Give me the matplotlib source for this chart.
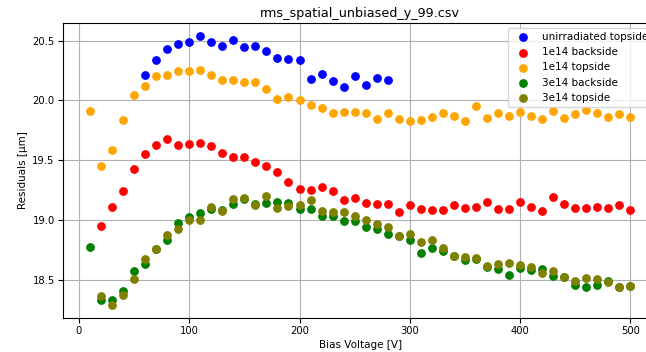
import matplotlib
matplotlib.use("Agg")
from matplotlib import pyplot as plt

# bias voltages
v_blue = list(range(60, 290, 10))
v_red = list(range(20, 510, 10))
v_orange = list(range(10, 510, 10))
v_green = list(range(10, 510, 10))
v_olive = list(range(20, 510, 10))

unirr_top = [20.215, 20.335, 20.43, 20.473, 20.485, 20.537, 20.485, 20.454, 20.504, 20.446,
             20.454, 20.415, 20.354, 20.343, 20.335, 20.18, 20.218, 20.165, 20.11, 20.204,
             20.13, 20.19, 20.17]

e14_back = [18.95, 19.11, 19.243, 19.423, 19.554, 19.623, 19.68, 19.623, 19.635, 19.643,
            19.615, 19.563, 19.527, 19.527, 19.482, 19.454, 19.404, 19.315, 19.263, 19.254,
            19.273, 19.243, 19.165, 19.182, 19.146, 19.135, 19.135, 19.065, 19.123, 19.093,
            19.082, 19.082, 19.123, 19.104, 19.11, 19.154, 19.093, 19.093, 19.154, 19.11,
            19.073, 19.193, 19.135, 19.104, 19.104, 19.11, 19.104, 19.123, 19.085]

e14_top = [19.915, 19.454, 19.585, 19.835, 20.043, 20.123, 20.2, 20.215, 20.243, 20.243,
           20.254, 20.215, 20.173, 20.173, 20.154, 20.154, 20.093, 20.013, 20.027, 20.004,
           19.963, 19.935, 19.893, 19.904, 19.904, 19.896, 19.843, 19.896, 19.846, 19.826,
           19.835, 19.862, 19.893, 19.873, 19.826, 19.954, 19.854, 19.896, 19.873, 19.90,
           19.873, 19.843, 19.915, 19.854, 19.89, 19.923, 19.893, 19.862, 19.89, 19.862]

e3_back = [18.773, 18.33, 18.335, 18.407, 18.573, 18.632, 18.76, 18.83, 18.973, 19.025,
           19.057, 19.093, 19.082, 19.135, 19.173, 19.132, 19.143, 19.154, 19.146, 19.093,
           19.093, 19.032, 19.032, 18.993, 18.993, 18.943, 18.921, 18.882, 18.863, 18.832,
           18.721, 18.763, 18.743, 18.70, 18.668, 18.673, 18.61, 18.593, 18.543, 18.598,
           18.579, 18.588, 18.532, 18.52, 18.46, 18.443, 18.46, 18.493, 18.443, 18.452]

e3_top = [18.363, 18.293, 18.373, 18.504, 18.673, 18.76, 18.873, 18.923, 19.002, 19.002,
          19.11, 19.079, 19.173, 19.182, 19.127, 19.204, 19.104, 19.115, 19.123, 19.163,
          19.073, 19.065, 19.065, 19.035, 19.004, 18.965, 18.943, 18.868, 18.885, 18.813,
          18.835, 18.765, 18.70, 18.69, 18.682, 18.615, 18.632, 18.64, 18.621, 18.604,
          18.554, 18.57, 18.526, 18.493, 18.515, 18.504, 18.482, 18.443, 18.452]

fig = plt.figure(figsize=(6.46, 3.52), dpi=100)
# axes runs past the right edge like in the original crop
ax = fig.add_axes([63 / 646, 1 - 318 / 352, (657.3 - 63) / 646, (318 - 22.7) / 352])

ax.scatter(v_blue, unirr_top, color='blue', s=28, label='unirradiated topside', zorder=3)
ax.scatter(v_red, e14_back, color='red', s=28, label='1e14 backside', zorder=3)
ax.scatter(v_orange, e14_top, color='orange', s=28, label='1e14 topside', zorder=3)
ax.scatter(v_green, e3_back, color='green', s=28, label='3e14 backside', zorder=3)
ax.scatter(v_olive, e3_top, color='olive', s=28, label='3e14 topside', zorder=3)

ax.set_title("rms_spatial_unbiased_y_99.csv", fontsize=9.2, pad=4)
ax.set_xlabel("Bias Voltage [V]", fontsize=7.5, labelpad=2.5)
ax.set_ylabel("Residuals [µm]", fontsize=7.5, labelpad=3)
ax.tick_params(labelsize=7.2, length=3.5, pad=2.5)
ax.grid(True)
ax.legend(loc='upper right', fontsize=7.5, borderaxespad=0.5)

fig.savefig("out.png", dpi=100)
